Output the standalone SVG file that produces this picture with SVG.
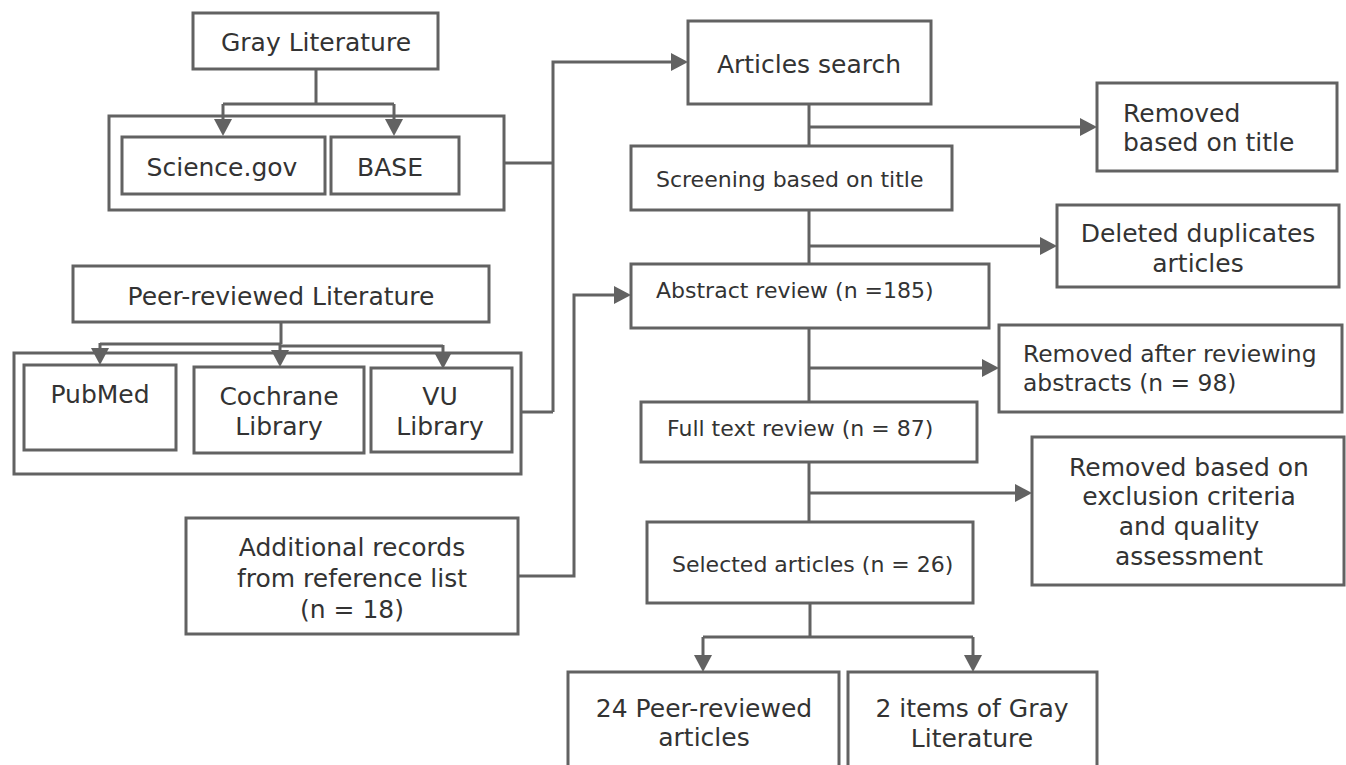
<svg xmlns="http://www.w3.org/2000/svg" width="1346" height="765" viewBox="0 0 1346 765">
<style>
.box{fill:#fff;stroke:#626262;stroke-width:3}
.ln{fill:none;stroke:#626262;stroke-width:3}
.ar{fill:none;stroke:#626262;stroke-width:3;marker-end:url(#ah)}
text{font-family:"DejaVu Sans",Verdana,sans-serif;fill:#333;font-size:25px}
.c{text-anchor:middle}
.s{font-size:22px}
</style>
<defs>
<marker id="ah" markerUnits="userSpaceOnUse" viewBox="0 0 17 18" refX="0" refY="9" markerWidth="17" markerHeight="18" orient="auto">
<path d="M0,0 L17,9 L0,18 z" fill="#626262"/>
</marker>
</defs>
<rect width="1346" height="765" fill="#fff"/>

<g id="gray-group"><rect class="box" x="109" y="116" width="395" height="94"/></g>
<g id="gray-literature"><rect class="box" x="193" y="13" width="245" height="56"/><text class="c" x="316" y="51">Gray Literature</text></g>
<g id="science-gov"><rect class="box" x="122" y="137" width="203" height="57"/><text class="c" x="222" y="176">Science.gov</text></g>
<g id="base"><rect class="box" x="331" y="137" width="128" height="57"/><text class="c" x="390" y="176">BASE</text></g>

<g id="peer-group"><rect class="box" x="14" y="353" width="507" height="121"/></g>
<g id="peer-literature"><rect class="box" x="73" y="266" width="416" height="56"/><text class="c" x="281" y="305">Peer-reviewed Literature</text></g>
<g id="pubmed"><rect class="box" x="24" y="365" width="152" height="85"/><text class="c" x="100" y="403">PubMed</text></g>
<g id="cochrane"><rect class="box" x="194" y="367" width="170" height="86"/><text class="c" x="279" y="405">Cochrane</text><text class="c" x="279" y="435">Library</text></g>
<g id="vu"><rect class="box" x="371" y="368" width="141" height="84"/><text class="c" x="440" y="405">VU</text><text class="c" x="440" y="435">Library</text></g>

<g id="additional"><rect class="box" x="186" y="518" width="332" height="116"/><text class="c" x="352" y="556">Additional records</text><text class="c" x="352" y="587">from reference list</text><text class="c" x="352" y="618">(n = 18)</text></g>

<g id="articles-search"><rect class="box" x="688" y="21" width="243" height="83"/><text class="c" x="809" y="73">Articles search</text></g>
<g id="screening"><rect class="box" x="631" y="146" width="321" height="64"/><text class="s" x="656" y="187">Screening based on title</text></g>
<g id="abstract"><rect class="box" x="631" y="264" width="358" height="64"/><text class="s" x="656" y="298">Abstract review (n =185)</text></g>
<g id="fulltext"><rect class="box" x="641" y="402" width="336" height="60"/><text class="s" x="667" y="436">Full text review (n = 87)</text></g>
<g id="selected"><rect class="box" x="647" y="522" width="326" height="81"/><text class="s" x="672" y="572">Selected articles (n = 26)</text></g>

<g id="removed-title"><rect class="box" x="1097" y="83" width="240" height="88"/><text x="1123" y="122">Removed</text><text x="1123" y="151">based on title</text></g>
<g id="deleted"><rect class="box" x="1057" y="205" width="282" height="82"/><text class="c" x="1198" y="242">Deleted duplicates</text><text class="c" x="1198" y="272">articles</text></g>
<g id="removed-abstracts"><rect class="box" x="999" y="325" width="343" height="87"/><text x="1023" y="362" style="font-size:23.4px">Removed after reviewing</text><text x="1023" y="391" style="font-size:23.4px">abstracts (n = 98)</text></g>
<g id="removed-exclusion"><rect class="box" x="1032" y="437" width="312" height="148"/><text class="c" x="1189" y="476">Removed based on</text><text class="c" x="1189" y="505">exclusion criteria</text><text class="c" x="1189" y="535">and quality</text><text class="c" x="1189" y="565">assessment</text></g>

<g id="peer-reviewed-articles"><rect class="box" x="568" y="672" width="271" height="100"/><text class="c" x="704" y="717">24 Peer-reviewed</text><text class="c" x="704" y="746">articles</text></g>
<g id="gray-items"><rect class="box" x="848" y="672" width="249" height="100"/><text class="c" x="972" y="717">2 items of Gray</text><text class="c" x="972" y="747">Literature</text></g>

<g id="connectors">
<path class="ln" d="M316,69 V104 M223,104 H394"/>
<path class="ar" d="M223,104 V119"/>
<path class="ar" d="M394,104 V119"/>
<path class="ln" d="M281,322 V344 M281,344 H100 M281,346 H443"/>
<path class="ar" d="M100,343 V348"/>
<path class="ar" d="M280,344 V350"/>
<path class="ar" d="M443,345 V352"/>
<path class="ln" d="M504,163 H553 M521,412 H553"/>
<path class="ar" d="M553,412 V62 H671"/>
<path class="ar" d="M518,576 H574 V295 H614"/>
<path class="ln" d="M809,104 V146"/>
<path class="ar" d="M809,127 H1080"/>
<path class="ln" d="M809,210 V264"/>
<path class="ar" d="M809,246 H1040"/>
<path class="ln" d="M809,328 V402"/>
<path class="ar" d="M809,368 H982"/>
<path class="ln" d="M809,462 V522"/>
<path class="ar" d="M809,493 H1015"/>
<path class="ln" d="M810,603 V637 M703,637 H973"/>
<path class="ar" d="M703,637 V655"/>
<path class="ar" d="M973,637 V655"/>
</g>
</svg>
